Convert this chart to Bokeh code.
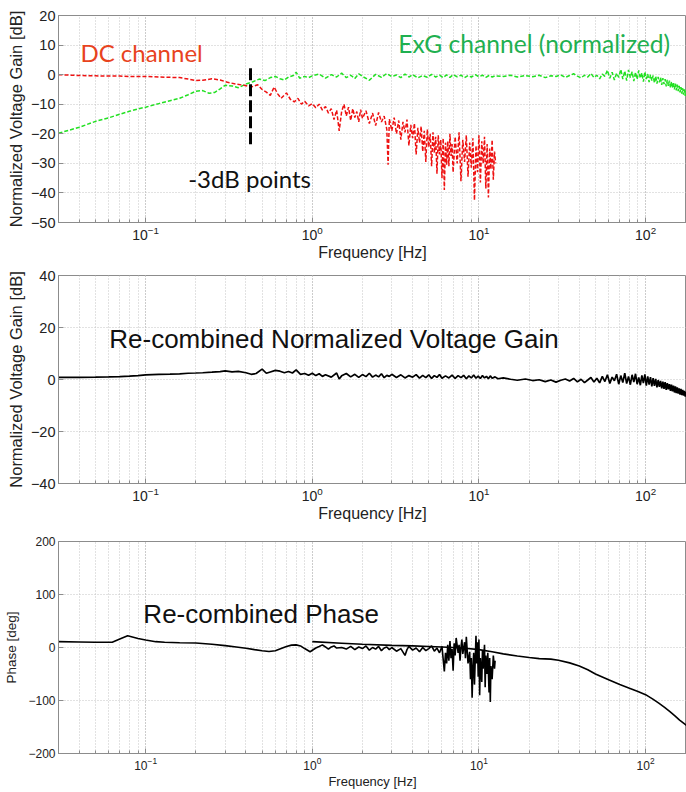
from bokeh.plotting import figure
from bokeh.models import Label, Range1d, FixedTicker
from bokeh.layouts import column
from bokeh.embed import file_html
from bokeh.resources import INLINE

# ---------------- data ----------------
freq_range = [0.03, 176.0]

# top panel: DC channel (red) [Hz, dB]
dc_channel = [
    (0.03, 0.0), (0.04, -0.3), (0.05, -0.4), (0.06, -0.5), (0.07, -0.5), (0.08, -0.6), (0.1, -0.6), (0.12, -0.8),
    (0.14, -0.9), (0.16, -1.0), (0.18, -1.5), (0.2, -2.0), (0.22, -1.9), (0.25, -1.4), (0.28, -1.8), (0.31, -2.6),
    (0.35, -3.2), (0.39, -3.6), (0.43, -4.2), (0.47, -3.4), (0.5, -5.0), (0.53, -5.9), (0.56, -7.0), (0.59, -4.2),
    (0.62, -6.5), (0.65, -8.0), (0.7, -6.2), (0.74, -8.4), (0.78, -9.2), (0.82, -8.0), (0.86, -10.0), (0.9, -9.0),
    (0.95, -10.6), (1.0, -9.8), (1.05, -11.2), (1.1, -10.0), (1.15, -12.0), (1.2, -10.8), (1.25, -13.0), (1.3, -11.5),
    (1.35, -15.2), (1.4, -12.0), (1.45, -19.0), (1.5, -12.5), (1.55, -10.0), (1.6, -14.0), (1.65, -11.0), (1.7, -15.5),
    (1.75, -11.5), (1.8, -14.5), (1.85, -12.5), (1.9, -16.0), (1.95, -11.8), (2.0, -14.8), (2.1, -12.2), (2.2, -16.5),
    (2.3, -13.0), (2.4, -17.2), (2.5, -12.8), (2.6, -16.0), (2.7, -14.0), (2.8, -18.5), (2.85, -30.5), (2.9, -15.0),
    (3.0, -19.0), (3.1, -14.5), (3.2, -20.0), (3.3, -15.5), (3.4, -22.0), (3.5, -16.0), (3.6, -19.5), (3.7, -15.2),
    (3.8, -24.0), (3.9, -17.0), (4.0, -21.5), (4.1, -16.5), (4.2, -27.0), (4.3, -18.0), (4.4, -23.0), (4.5, -17.5),
    (4.6, -26.0), (4.7, -19.0), (4.8, -29.5), (4.9, -18.5), (5.0, -24.5), (5.1, -20.0), (5.2, -31.0), (5.3, -19.5),
    (5.4, -26.5), (5.5, -21.0), (5.6, -33.5), (5.7, -20.5), (5.8, -27.0), (5.9, -22.0), (6.0, -35.0), (6.1, -21.5),
    (6.2, -39.0), (6.3, -23.0), (6.4, -30.5), (6.5, -22.5), (6.6, -31.0), (6.7, -20.0), (6.8, -27.5), (6.9, -23.5),
    (7.0, -33.0), (7.2, -21.0), (7.4, -30.0), (7.6, -19.5), (7.8, -36.0), (8.0, -22.0), (8.2, -29.5), (8.4, -20.5),
    (8.6, -34.5), (8.8, -23.0), (9.0, -31.5), (9.2, -21.5), (9.4, -42.5), (9.6, -24.0), (9.8, -33.0), (10.0, -20.5),
    (10.2, -36.5), (10.4, -22.5), (10.6, -30.0), (10.8, -21.0), (11.0, -38.5), (11.2, -23.5), (11.4, -41.5), (11.6, -25.0),
    (11.8, -32.0), (12.0, -22.0), (12.2, -35.5), (12.4, -26.0), (12.6, -30.0),
]

# top panel: ExG channel (green) [Hz, dB]
exg_channel = [
    (0.03, -19.8), (0.04, -17.8), (0.05, -15.8), (0.06, -14.6), (0.07, -13.4), (0.08, -12.4), (0.09, -11.6), (0.1, -11.0),
    (0.12, -9.8), (0.14, -8.8), (0.16, -8.0), (0.18, -6.8), (0.2, -5.6), (0.22, -5.4), (0.24, -6.3), (0.26, -6.0),
    (0.28, -4.8), (0.3, -3.6), (0.33, -3.8), (0.36, -4.4), (0.4, -3.2), (0.44, -2.4), (0.48, -1.5), (0.52, -2.0),
    (0.56, -1.0), (0.6, -0.6), (0.64, -1.4), (0.68, -1.8), (0.72, -0.8), (0.77, -0.3), (0.8, 0.8), (0.84, -1.2),
    (0.9, -0.6), (0.95, -1.0), (1.0, -0.4), (1.1, 0.2), (1.2, -1.2), (1.3, 0.0), (1.4, -0.8), (1.5, 0.5),
    (1.6, -1.0), (1.7, -0.2), (1.8, -1.3), (1.9, 0.3), (2.0, -0.6), (2.2, -1.9), (2.4, 0.1), (2.6, -0.9),
    (2.8, 0.4), (3.0, -0.7), (3.2, -0.1), (3.4, -1.0), (3.6, 0.2), (3.8, -0.8), (4.0, 0.0), (4.3, -1.1),
    (4.6, -0.3), (4.9, -0.9), (5.2, 0.1), (5.5, -0.8), (5.8, -0.2), (6.1, -1.0), (6.4, -0.1), (6.7, -0.9),
    (7.0, 0.0), (7.4, -0.7), (7.8, -0.2), (8.2, -1.0), (8.6, -0.3), (9.0, -0.8), (9.5, 0.0), (10.0, -0.7),
    (10.5, -0.2), (11.0, -0.9), (11.5, -0.3), (12.0, -0.8), (12.5, -0.4), (14.0, -0.6), (15.5, -0.2), (17.0, -0.8),
    (19.0, -0.3), (21.0, -0.7), (23.0, -0.2), (25.0, -1.0), (27.0, -0.4), (29.0, -0.6), (31.0, -0.1), (33.0, -0.9),
    (35.0, -0.3), (37.0, 0.3), (39.0, -0.5), (41.0, -1.1), (43.0, -0.2), (45.0, -0.8), (47.0, 0.4), (49.0, -1.0),
    (51.0, -0.2), (53.0, -1.4), (55.0, 0.2), (57.0, -0.6), (59.0, 1.5), (61.0, -1.2), (63.0, 0.8), (65.0, -1.8),
    (67.0, 0.5), (69.0, -0.9), (71.0, 1.8), (73.0, -1.5), (75.0, 1.2), (77.0, -2.0), (79.0, 1.6), (81.0, -1.0),
    (83.0, 1.0), (85.0, -2.2), (87.0, 0.8), (89.0, -1.6), (91.0, 1.4), (93.0, -1.2), (95.0, 0.6), (97.0, -2.4),
    (99.0, 1.0), (101.0, -1.5), (103.0, 0.2), (105.0, -2.5), (107.0, 0.0), (109.0, -2.0), (111.0, -0.3), (113.0, -2.8),
    (115.0, -0.5), (117.0, -3.0), (119.0, -0.8), (121.0, -2.6), (123.0, -1.0), (125.0, -3.5), (127.0, -1.2), (129.0, -3.2),
    (131.0, -1.5), (133.0, -4.0), (135.0, -1.8), (137.0, -3.8), (139.0, -2.0), (141.0, -4.4), (143.0, -2.3), (145.0, -4.6),
    (147.0, -2.6), (149.0, -5.0), (151.0, -3.0), (153.0, -5.3), (155.0, -3.4), (157.0, -5.6), (159.0, -3.8), (161.0, -6.0),
    (163.0, -4.2), (165.0, -6.4), (167.0, -4.6), (169.0, -6.8), (171.0, -5.0), (173.0, -7.2), (175.0, -5.5), (177.0, -7.6),
]

# -3dB marker [Hz], [dB]
marker_f = [0.426, 0.426]
marker_db = [2.2, -24.5]

# middle panel: re-combined gain [Hz, dB]
combined_gain = [
    (0.03, 0.8), (0.04, 0.8), (0.05, 0.9), (0.06, 1.0), (0.07, 1.1), (0.08, 1.3), (0.09, 1.5), (0.1, 1.8),
    (0.12, 2.0), (0.14, 2.1), (0.16, 2.2), (0.18, 2.4), (0.2, 2.5), (0.22, 2.6), (0.25, 2.8), (0.28, 3.0),
    (0.3, 3.3), (0.33, 2.9), (0.36, 3.1), (0.4, 2.6), (0.43, 2.0), (0.46, 2.3), (0.5, 4.0), (0.53, 2.4),
    (0.56, 2.9), (0.6, 3.5), (0.64, 3.2), (0.68, 2.6), (0.72, 3.1), (0.76, 2.5), (0.8, 3.7), (0.85, 2.0),
    (0.9, 2.3), (0.95, 1.6), (1.0, 2.4), (1.05, 1.5), (1.1, 2.2), (1.15, 1.2), (1.2, 1.8), (1.3, 0.9),
    (1.4, 2.5), (1.45, 0.2), (1.5, 1.4), (1.6, 2.3), (1.7, 1.0), (1.8, 2.0), (1.9, 0.8), (2.0, 1.9),
    (2.1, 1.1), (2.2, 2.4), (2.3, 0.9), (2.4, 1.7), (2.5, 1.0), (2.6, 2.2), (2.7, 0.7), (2.8, 1.6),
    (2.9, 1.2), (3.0, 2.0), (3.2, 0.8), (3.4, 1.8), (3.6, 0.6), (3.8, 1.5), (4.0, 0.9), (4.2, 1.9),
    (4.4, 0.5), (4.6, 1.6), (4.8, 0.7), (5.0, 1.8), (5.2, 0.4), (5.4, 1.5), (5.6, 0.8), (5.8, 1.9),
    (6.0, 0.5), (6.3, 1.4), (6.6, 0.6), (6.9, 1.7), (7.2, 0.4), (7.5, 1.5), (7.8, 0.7), (8.1, 1.6),
    (8.4, 0.3), (8.7, 1.4), (9.0, 0.6), (9.3, 1.7), (9.6, 0.5), (9.9, 1.3), (10.2, 0.4), (10.5, 1.5),
    (10.8, 0.6), (11.1, 1.2), (11.4, 0.3), (11.7, 1.4), (12.0, 0.5), (12.5, 1.0), (13.0, 0.3), (14.0, 0.6),
    (15.5, 0.1), (17.0, -0.3), (19.0, 0.2), (21.0, -0.4), (23.0, -0.1), (25.0, -0.8), (27.0, -0.2), (29.0, -1.0),
    (31.0, -0.3), (33.0, 0.2), (35.0, -0.6), (37.0, 0.4), (39.0, -0.9), (41.0, 0.1), (43.0, -1.2), (45.0, -0.2),
    (47.0, 0.8), (49.0, -1.0), (51.0, 0.5), (53.0, -1.3), (55.0, 1.2), (57.0, -0.8), (59.0, 1.8), (61.0, -1.5),
    (63.0, 0.9), (65.0, -0.5), (67.0, 2.0), (69.0, -1.8), (71.0, 1.5), (73.0, -1.2), (75.0, 2.4), (77.0, -1.6),
    (79.0, 1.2), (81.0, -2.0), (83.0, 1.8), (85.0, -1.0), (87.0, 2.2), (89.0, -1.8), (91.0, 0.8), (93.0, -2.2),
    (95.0, 1.6), (97.0, -1.4), (99.0, 2.0), (101.0, -2.4), (103.0, 1.2), (105.0, -2.0), (107.0, 0.9), (109.0, -2.6),
    (111.0, 0.5), (113.0, -2.4), (115.0, 0.2), (117.0, -3.0), (119.0, -0.2), (121.0, -2.8), (123.0, -0.5), (125.0, -3.4),
    (127.0, -0.8), (129.0, -3.6), (131.0, -1.0), (133.0, -4.0), (135.0, -1.4), (137.0, -3.8), (139.0, -1.8), (141.0, -4.4),
    (143.0, -2.0), (145.0, -4.6), (147.0, -2.4), (149.0, -5.0), (151.0, -2.6), (153.0, -5.2), (155.0, -3.0), (157.0, -5.4),
    (159.0, -3.4), (161.0, -5.8), (163.0, -3.6), (165.0, -6.0), (167.0, -4.0), (169.0, -6.2), (171.0, -4.4), (173.0, -6.6),
    (175.0, -4.8), (177.0, -6.8),
]

# bottom panel: DC phase [Hz, deg]
dc_phase = [
    (0.03, 11.0), (0.04, 10.5), (0.05, 10.0), (0.063, 10.0), (0.07, 16.0), (0.078, 22.0), (0.09, 17.0), (0.1, 14.0),
    (0.115, 11.0), (0.13, 10.0), (0.16, 9.0), (0.2, 8.5), (0.25, 6.0), (0.3, 3.5), (0.35, 1.0), (0.4, -1.5),
    (0.45, -4.0), (0.5, -6.0), (0.55, -7.5), (0.6, -6.0), (0.65, -2.0), (0.7, 2.0), (0.75, 4.5), (0.8, 5.0),
    (0.85, 3.0), (0.9, -2.0), (0.97, -8.0), (1.05, -1.0), (1.1, 2.0), (1.15, 5.0), (1.2, 1.0), (1.25, -3.0),
    (1.3, 1.0), (1.35, 3.0), (1.4, -1.0), (1.5, 0.0), (1.6, -3.0), (1.7, 2.0), (1.8, -4.0), (1.9, 1.0),
    (2.0, -2.0), (2.1, 3.0), (2.2, -5.0), (2.3, 0.0), (2.4, -3.0), (2.5, 2.0), (2.6, -6.0), (2.7, -1.0),
    (2.8, 1.0), (2.9, -4.0), (3.0, 0.0), (3.2, -7.0), (3.4, -2.0), (3.6, -15.0), (3.7, -4.0), (3.8, 2.0),
    (4.0, -5.0), (4.2, -1.0), (4.4, -8.0), (4.6, 0.0), (4.8, -6.0), (5.0, -2.0), (5.2, 3.0), (5.4, -7.0),
    (5.6, -1.0), (5.8, -10.0), (6.0, 2.0), (6.2, -45.0), (6.3, -10.0), (6.4, -30.0), (6.5, 5.0), (6.6, -25.0),
    (6.7, 12.0), (6.8, -20.0), (6.9, -3.0), (7.0, -44.0), (7.1, 8.0), (7.2, -15.0), (7.3, 18.0), (7.5, -10.0),
    (7.6, 5.0), (7.7, -25.0), (7.8, 0.0), (7.9, 15.0), (8.0, -12.0), (8.2, 10.0), (8.3, -20.0), (8.4, 20.0),
    (8.5, -5.0), (8.6, -30.0), (8.8, -8.0), (8.9, -60.0), (9.0, -20.0), (9.1, -95.0), (9.2, -40.0), (9.3, -10.0),
    (9.4, -70.0), (9.6, 22.0), (9.7, -30.0), (9.8, 10.0), (9.9, -55.0), (10.0, 15.0), (10.1, -90.0), (10.2, -20.0),
    (10.4, -65.0), (10.5, -5.0), (10.6, -40.0), (10.8, 5.0), (10.9, -75.0), (11.0, -15.0), (11.2, -50.0), (11.3, -10.0),
    (11.5, -85.0), (11.6, -20.0), (11.7, -103.0), (11.8, -35.0), (12.0, -60.0), (12.2, -15.0), (12.4, -40.0), (12.5, -25.0),
]

# bottom panel: ExG phase [Hz, deg]
exg_phase = [
    (1.0, 11.0), (1.5, 8.0), (2.0, 6.0), (3.0, 4.0), (4.0, 3.0), (5.0, 2.0), (6.0, 1.0), (8.0, -1.0),
    (10.0, -4.0), (12.0, -8.0), (14.0, -12.0), (17.0, -16.0), (20.0, -19.0), (23.0, -21.0), (27.0, -22.0), (30.0, -24.0),
    (35.0, -29.0), (40.0, -35.0), (45.0, -42.0), (50.0, -50.0), (60.0, -61.0), (70.0, -70.0), (80.0, -77.0), (90.0, -83.0),
    (100.0, -89.0), (110.0, -97.0), (120.0, -105.0), (130.0, -113.0), (140.0, -121.0), (150.0, -129.0), (160.0, -137.0),
    (176.0, -147.0), (200.0, -160.0),
]

# tick values
gain_ticks_top = [-50, -40, -30, -20, -10, 0, 10, 20]
gain_ticks_mid = [-40, -20, 0, 20, 40]
phase_ticks = [-200, -100, 0, 100, 200]

# annotation texts: (text, Hz, value, colour, size)
top_notes = [("DC channel", 0.0406, 7.6, "#e8431e", "24px"),
             ("ExG channel (normalized)", 3.28, 10.6, "#1fb050", "24.6px"),
             ("-3dB points", 0.180, -35.2, "#111111", "24px")]
mid_note = ("Re-combined Normalized Voltage Gain", 0.0605, 15.4)
bot_note = ("Re-combined Phase", 0.0969, 64.0)

# ---------------- styling helpers ----------------
AX = "#8c8c8c"
TXT = "#222222"


def make_fig(height, top, bottom, yr, yticks, ylabel, ytick_fs, ylabel_fs, xtick_fs, xlabel_fs, ylab_standoff):
    p = figure(width=686, height=height, x_axis_type="log",
               x_range=Range1d(freq_range[0], freq_range[1]),
               y_range=Range1d(yr[0], yr[1]),
               output_backend="svg", toolbar_location=None,
               min_border_left=58, min_border_right=0,
               min_border_top=top, min_border_bottom=bottom)
    p.outline_line_color = AX
    p.background_fill_color = "white"
    p.border_fill_color = "white"
    p.yaxis.ticker = FixedTicker(ticks=yticks)
    p.xaxis.axis_label = "Frequency [Hz]"
    p.yaxis.axis_label = ylabel
    for ax in p.axis:
        ax.axis_line_color = AX
        ax.major_tick_line_color = AX
        ax.minor_tick_line_color = AX
        ax.major_tick_in = 5
        ax.major_tick_out = 0
        ax.minor_tick_in = 3
        ax.minor_tick_out = 0
        ax.major_label_text_font = "Liberation Sans"
        ax.axis_label_text_font = "Liberation Sans"
        ax.axis_label_text_font_style = "normal"
        ax.major_label_text_color = TXT
        ax.axis_label_text_color = TXT
    p.yaxis.minor_tick_line_color = None
    p.yaxis.major_label_text_font_size = ytick_fs
    p.yaxis.axis_label_text_font_size = ylabel_fs
    p.yaxis.major_label_standoff = 3
    p.yaxis.axis_label_standoff = ylab_standoff
    p.xaxis.major_label_text_font_size = xtick_fs
    p.xaxis.axis_label_text_font_size = xlabel_fs
    p.xaxis.major_label_standoff = 3
    p.xaxis.axis_label_standoff = 1
    p.xgrid.grid_line_color = "#c4c4c4"
    p.xgrid.grid_line_dash = "1 2"
    p.xgrid.minor_grid_line_color = "#c4c4c4"
    p.xgrid.minor_grid_line_dash = "1 2"
    p.ygrid.grid_line_color = "#c4c4c4"
    p.ygrid.grid_line_dash = "1 2"
    return p


# ---------------- top panel ----------------
p1 = make_fig(266, 15, 44, (-50, 20), gain_ticks_top, "Normalized Voltage Gain [dB]",
              "14.5px", "16.5px", "14px", "16px", 3)
dc_f, dc_db = zip(*dc_channel)
exg_f, exg_db = zip(*exg_channel)
p1.line(list(exg_f), list(exg_db), line_color="#22e022", line_width=1.5, line_dash="4 2")
p1.line(list(dc_f), list(dc_db), line_color="#ee1111", line_width=1.5, line_dash="4 2")
p1.line(marker_f, marker_db, line_color="black", line_width=3, line_dash="12 4")
for txt, fx, fy, col, fs in top_notes:
    p1.add_layout(Label(x=fx, y=fy, text=txt, text_font="Lato", text_font_size=fs,
                        text_color=col, text_baseline="alphabetic"))

# ---------------- middle panel ----------------
p2 = make_fig(261, 9, 44, (-40, 40), gain_ticks_mid, "Normalized Voltage Gain [dB]",
              "14.5px", "16.5px", "14px", "16px", 3)
cg_f, cg_db = zip(*combined_gain)
p2.line(list(cg_f), list(cg_db), line_color="black", line_width=1.7)
p2.add_layout(Label(x=mid_note[1], y=mid_note[2], text=mid_note[0], text_font="Liberation Sans",
                    text_font_size="26px", text_color="#111111", text_baseline="alphabetic"))

# ---------------- bottom panel ----------------
p3 = make_fig(265, 14, 39, (-200, 200), phase_ticks, "Phase [deg]",
              "12px", "13.5px", "12px", "13px", 6)
dp_f, dp_deg = zip(*dc_phase)
ep_f, ep_deg = zip(*exg_phase)
p3.line(list(dp_f), list(dp_deg), line_color="black", line_width=1.6)
p3.line(list(ep_f), list(ep_deg), line_color="black", line_width=1.6)
p3.add_layout(Label(x=bot_note[1], y=bot_note[2], text=bot_note[0], text_font="Liberation Sans",
                    text_font_size="26px", text_color="#111111", text_baseline="alphabetic"))

layout = column(p1, p2, p3, spacing=0)
open("out.html", "w").write(file_html(layout, INLINE))
